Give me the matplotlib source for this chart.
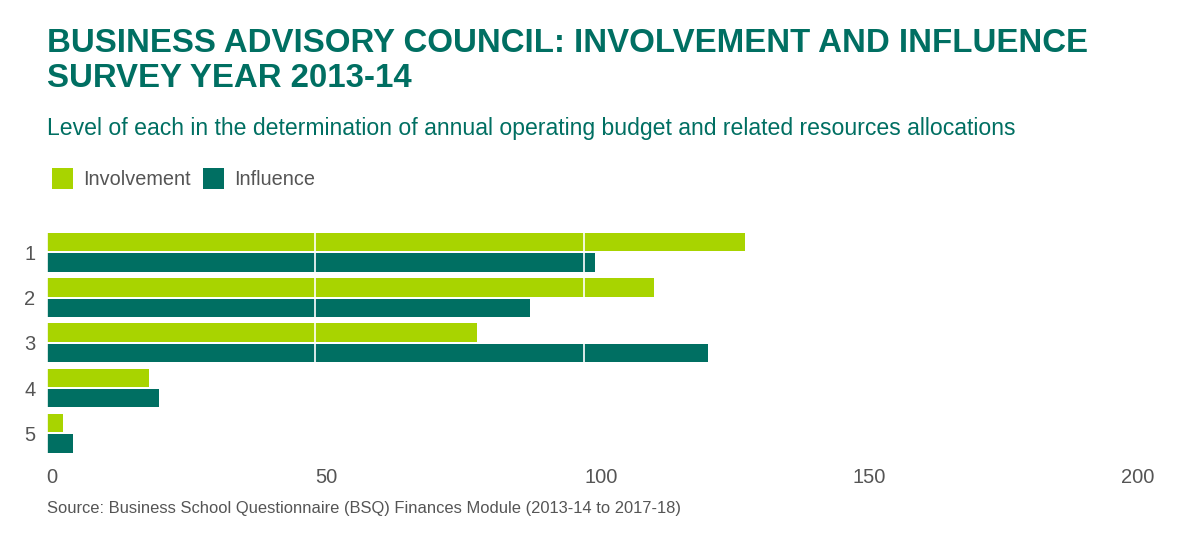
import matplotlib
matplotlib.use("Agg")
import matplotlib.pyplot as plt
import numpy as np

categories = ["1", "2", "3", "4", "5"]
involvement = [130, 113, 80, 19, 3]
influence = [102, 90, 123, 21, 5]
x_ticks = [0, 50, 100, 150, 200]

LIME = "#A8D400"
TEAL = "#006F62"
GRAY = "#555555"

plt.rcParams["font.family"] = ["Liberation Sans", "DejaVu Sans"]

W, H = 1200, 540
fig = plt.figure(figsize=(W / 100, H / 100), dpi=100)

def fx(px):
    return px / W

def fy(py):
    return 1 - py / H

ax = fig.add_axes([fx(46.5), fy(455.8), fx(1121.5 - 46.5), (455.8 - 229.8) / H])
y = np.arange(len(categories))
h = 0.41
off = 0.225
ax.barh(y - off, involvement, height=h, color=LIME, label="Involvement", zorder=2)
ax.barh(y + off, influence, height=h, color=TEAL, label="Influence", zorder=2)

ax.set_xlim(0, 200)
ax.set_ylim(len(categories) - 0.5, -0.5)
ax.set_yticks(y)
ax.set_yticklabels(categories)
ax.set_xticks(x_ticks)
ax.set_xticklabels([str(v) for v in x_ticks])
for lab in ax.get_xticklabels():
    lab.set_horizontalalignment("left")
ax.tick_params(axis="both", length=0, labelsize=14.5, labelcolor=GRAY)
ax.tick_params(axis="x", pad=8.5)
ax.tick_params(axis="y", pad=8)
ax.grid(axis="x", color="white", linewidth=1.2, zorder=3)
ax.set_axisbelow(False)
for s in ax.spines.values():
    s.set_visible(False)

fig.text(fx(47), fy(51.7), "BUSINESS ADVISORY COUNCIL: INVOLVEMENT AND INFLUENCE",
         fontsize=23.8, fontweight="bold", color=TEAL, va="baseline", ha="left")
fig.text(fx(47), fy(86.7), "SURVEY YEAR 2013-14",
         fontsize=23.8, fontweight="bold", color=TEAL, va="baseline", ha="left")
fig.text(fx(47), fy(135), "Level of each in the determination of annual operating budget and related resources allocations",
         fontsize=16.6, color=TEAL, va="baseline", ha="left")

fig.legend(loc="upper left", bbox_to_anchor=(fx(52), fy(168)), ncol=2, frameon=False,
           fontsize=14.3, labelcolor=GRAY, handlelength=1.08, handleheight=1.25,
           handletextpad=0.5, columnspacing=0.6, borderpad=0, borderaxespad=0)

fig.text(fx(47), fy(512.5), "Source: Business School Questionnaire (BSQ) Finances Module (2013-14 to 2017-18)",
         fontsize=11.9, color=GRAY, va="baseline", ha="left")

fig.savefig("out.png", dpi=100, facecolor="white")
